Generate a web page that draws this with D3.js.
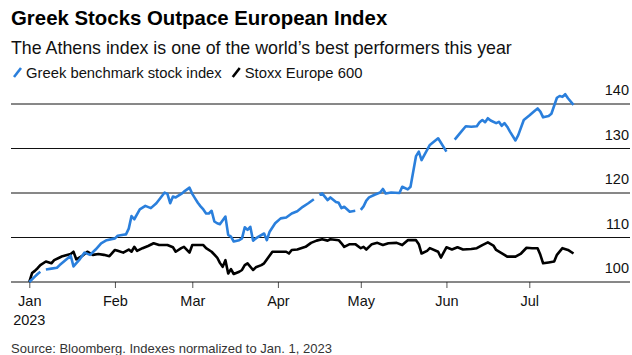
<!DOCTYPE html>
<html>
<head>
<meta charset="utf-8">
<script src="https://cdn.jsdelivr.net/npm/d3@7"></script>
<style>
  html, body { margin: 0; padding: 0; background: #fff; }
  svg { display: block; font-family: "Liberation Sans", Arial, sans-serif; }
</style>
</head>
<body>
<svg id="chart" width="632" height="355"></svg>
<script>
// ---- data ----
const greekDates = [
  "2023-01-01","2023-01-03","2023-01-04","2023-01-05","2023-01-06","2023-01-07","2023-01-09","2023-01-11","2023-01-12",
  "2023-01-16","2023-01-17","2023-01-19","2023-01-21","2023-01-23","2023-01-25","2023-01-27","2023-01-29",
  "2023-02-01","2023-02-02","2023-02-04","2023-02-05","2023-02-06","2023-02-07","2023-02-08","2023-02-10","2023-02-12",
  "2023-02-14","2023-02-16","2023-02-19","2023-02-20","2023-02-21","2023-02-22","2023-02-23","2023-02-25","2023-02-26","2023-02-28",
  "2023-03-01","2023-03-02","2023-03-03","2023-03-04","2023-03-05","2023-03-06","2023-03-07","2023-03-08","2023-03-09","2023-03-10",
  "2023-03-11","2023-03-13","2023-03-14","2023-03-15","2023-03-16","2023-03-18","2023-03-19","2023-03-20","2023-03-21","2023-03-22",
  "2023-03-23","2023-03-24","2023-03-25","2023-03-27","2023-03-28","2023-03-29","2023-03-31",
  "2023-04-02","2023-04-04","2023-04-06","2023-04-08","2023-04-10","2023-04-12","2023-04-14","2023-04-15","2023-04-16","2023-04-17",
  "2023-04-19","2023-04-20","2023-04-22","2023-04-23","2023-04-24","2023-04-25","2023-04-27","2023-04-29","2023-04-30",
  "2023-05-01","2023-05-02","2023-05-03","2023-05-04","2023-05-06","2023-05-08","2023-05-09","2023-05-10","2023-05-12",
  "2023-05-15","2023-05-16","2023-05-18","2023-05-19","2023-05-21","2023-05-22","2023-05-23","2023-05-26","2023-05-29",
  "2023-06-01","2023-06-02","2023-06-04","2023-06-06","2023-06-08","2023-06-10","2023-06-12","2023-06-13","2023-06-14",
  "2023-06-15","2023-06-16","2023-06-17","2023-06-19","2023-06-20","2023-06-21","2023-06-22","2023-06-23","2023-06-24",
  "2023-06-26","2023-06-27","2023-06-29","2023-07-01","2023-07-03","2023-07-04","2023-07-05","2023-07-06","2023-07-08",
  "2023-07-09","2023-07-11","2023-07-12","2023-07-13","2023-07-14","2023-07-15","2023-07-17"
];
const greekValues = [
  100,101.2,101.8,102.3,null,102.8,103.0,103.2,103.8,
  105.9,103.5,104.9,106.6,106.1,107.3,108.7,109.4,
  109.8,110.4,110.6,110.7,112.0,114.8,114.1,116.3,117.1,
  116.6,117.7,120.1,119.8,117.7,119.2,119.0,119.8,120.3,121.2,
  119.8,118.8,117.8,117.0,116.3,115.4,115.4,116.0,113.6,113.2,
  113.0,114.7,110.6,110.2,109.1,109.4,109.8,112.3,111.7,112.4,
  109.3,109.8,110.2,110.9,109.4,111.3,113.2,
  114.3,114.5,115.4,115.9,116.9,117.7,118.6,null,119.6,119.9,
  118.4,119.0,118.0,117.8,116.6,116.9,115.8,116.0,null,
  116.2,117.0,118.3,119.0,119.6,120.1,120.9,119.9,120.1,
  120.0,121.4,120.8,121.4,128.3,129.3,127.4,130.8,132.3,
  129.3,null,132.0,133.5,135.0,134.9,135.0,135.9,136.4,
  135.9,136.8,136.3,135.7,136.0,135.1,135.7,134.9,133.8,
  131.8,133.0,136.4,137.4,138.5,139.0,138.3,137.0,137.3,
  137.8,141.4,141.8,141.6,142.2,141.3,139.8
];
const stoxxDates = [
  "2023-01-01","2023-01-02","2023-01-03","2023-01-04","2023-01-05","2023-01-07","2023-01-09","2023-01-10","2023-01-12","2023-01-13",
  "2023-01-16","2023-01-17","2023-01-18","2023-01-20","2023-01-22","2023-01-24","2023-01-26","2023-01-28","2023-01-30",
  "2023-02-01","2023-02-02","2023-02-04","2023-02-06","2023-02-07","2023-02-08","2023-02-09","2023-02-11","2023-02-13","2023-02-15",
  "2023-02-17","2023-02-20","2023-02-22","2023-02-23","2023-02-25","2023-02-26","2023-02-28",
  "2023-03-01","2023-03-03","2023-03-05","2023-03-06","2023-03-08","2023-03-10","2023-03-11","2023-03-12","2023-03-13","2023-03-14",
  "2023-03-15","2023-03-16","2023-03-18","2023-03-19","2023-03-20","2023-03-21","2023-03-23","2023-03-24","2023-03-26","2023-03-27",
  "2023-03-30","2023-04-01","2023-04-04","2023-04-05","2023-04-06","2023-04-08","2023-04-11","2023-04-13","2023-04-15","2023-04-17",
  "2023-04-19","2023-04-20","2023-04-23","2023-04-24","2023-04-25","2023-04-27","2023-04-29",
  "2023-05-01","2023-05-02","2023-05-03","2023-05-05","2023-05-07","2023-05-09","2023-05-11","2023-05-14","2023-05-16","2023-05-18",
  "2023-05-21","2023-05-22","2023-05-23","2023-05-25","2023-05-26","2023-05-29","2023-05-30",
  "2023-06-01","2023-06-03","2023-06-05","2023-06-07","2023-06-10","2023-06-12","2023-06-14","2023-06-16","2023-06-18","2023-06-19",
  "2023-06-22","2023-06-23","2023-06-26","2023-06-28","2023-06-30",
  "2023-07-02","2023-07-04","2023-07-05","2023-07-06","2023-07-08","2023-07-10","2023-07-11","2023-07-13","2023-07-15","2023-07-17"
];
const stoxxValues = [
  100,102.0,102.5,103.1,103.8,104.6,104.2,104.9,105.5,105.8,
  106.3,106.8,105.1,105.8,106.8,106.1,106.3,106.1,105.8,
  107.2,107.0,106.6,107.3,106.8,107.9,107.0,107.6,108.1,108.7,
  108.3,108.3,107.8,106.8,107.6,107.9,106.6,
  108.3,108.3,108.3,107.6,106.8,105.5,104.3,103.4,104.9,101.9,
  102.9,101.8,102.3,102.7,103.8,104.2,102.7,103.3,103.8,104.2,
  106.8,106.8,106.8,106.4,107.2,107.3,107.9,108.8,109.3,109.6,
  109.3,109.6,109.4,108.7,107.9,108.5,108.5,
  107.6,107.9,107.3,108.5,108.8,108.3,108.7,108.8,108.3,109.4,
  109.4,108.5,106.4,107.0,107.6,106.8,105.5,
  107.8,107.3,107.8,107.3,107.4,107.6,108.3,108.9,108.2,107.2,
  106.1,105.7,105.7,106.4,107.7,
  107.6,107.6,106.1,104.2,104.4,104.6,106.1,107.6,107.2,106.4
];
const yTicks = [100, 110, 120, 130, 140];
const monthTicks = ["2023-01-01","2023-02-01","2023-03-01","2023-04-01","2023-05-01","2023-06-01","2023-07-01"];
const monthLabels = ["Jan","Feb","Mar","Apr","May","Jun","Jul"];
const seriesNames = ["Greek benchmark stock index", "Stoxx Europe 600"];
const seriesColors = ["#2a7fdc", "#000000"];

// ---- chart ----
const parse = d3.timeParse("%Y-%m-%d");
const svg = d3.select("#chart");

const x = d3.scaleTime()
  .domain([parse("2023-01-01"), parse("2023-07-01")])
  .range([29.3, 529.3]);
const y = d3.scaleLinear().domain([100, 140]).range([282, 104]);

// title / subtitle
svg.append("text").attr("x", 11).attr("y", 25)
  .attr("font-size", 20.4).attr("font-weight", "bold").attr("fill", "#000")
  .text("Greek Stocks Outpace European Index");
svg.append("text").attr("x", 11).attr("y", 54)
  .attr("font-size", 17.8).attr("fill", "#111")
  .text("The Athens index is one of the world\u2019s best performers this year");

// legend
const legend = svg.append("g");
let lx = 13;
seriesNames.forEach((name, i) => {
  legend.append("line")
    .attr("x1", lx + 1).attr("y1", 77).attr("x2", lx + 8).attr("y2", 68)
    .attr("stroke", seriesColors[i]).attr("stroke-width", 2.6).attr("stroke-linecap", "butt");
  const t = legend.append("text").attr("x", lx + 13).attr("y", 78)
    .attr("font-size", 14.8).attr("fill", "#111").text(name);
  lx += 13 + t.node().getComputedTextLength() + 10;
});

// gridlines
svg.append("g").selectAll("line").data(yTicks.slice(1)).join("line")
  .attr("x1", 11).attr("x2", 630)
  .attr("y1", d => y(d)).attr("y2", d => y(d))
  .attr("stroke", "#111").attr("stroke-width", 1);

// y labels
svg.append("g").selectAll("text").data(yTicks).join("text")
  .attr("x", 629).attr("y", d => y(d) - 9)
  .attr("text-anchor", "end").attr("font-size", 14.5).attr("fill", "#111")
  .text(d => d);

// x axis
const xAxis = d3.axisBottom(x)
  .tickValues(monthTicks.map(parse))
  .tickSize(6)
  .tickFormat((d, i) => monthLabels[i]);
const gx = svg.append("g").attr("transform", `translate(0,${y(100)})`).call(xAxis);
gx.select(".domain").remove();
gx.selectAll(".tick line").attr("stroke", "#555");
gx.selectAll(".tick text").attr("font-size", 14.5).attr("fill", "#111")
  .attr("font-family", "Liberation Sans, Arial, sans-serif").attr("dy", "0").attr("y", 24);
svg.append("line").attr("x1", 11).attr("x2", 630)
  .attr("y1", y(100)).attr("y2", y(100)).attr("stroke", "#111").attr("stroke-width", 1);
svg.append("text").attr("x", x(parse("2023-01-01"))).attr("y", 325)
  .attr("text-anchor", "middle").attr("font-size", 14.5).attr("fill", "#111").text("2023");

// lines
const line = d3.line()
  .defined(d => d.v !== null)
  .x(d => x(d.d)).y(d => y(d.v));
const stoxx = stoxxDates.map((s, i) => ({ d: parse(s), v: stoxxValues[i] }));
const greek = greekDates.map((s, i) => ({ d: parse(s), v: greekValues[i] }));
svg.append("path").datum(stoxx).attr("d", line)
  .attr("fill", "none").attr("stroke", seriesColors[1]).attr("stroke-width", 2.6)
  .attr("stroke-linejoin", "round");
svg.append("path").datum(greek).attr("d", line)
  .attr("fill", "none").attr("stroke", seriesColors[0]).attr("stroke-width", 2.6)
  .attr("stroke-linejoin", "round");

// source
svg.append("text").attr("x", 11).attr("y", 353)
  .attr("font-size", 13).attr("fill", "#333")
  .text("Source: Bloomberg. Indexes normalized to Jan. 1, 2023");
</script>
</body>
</html>
